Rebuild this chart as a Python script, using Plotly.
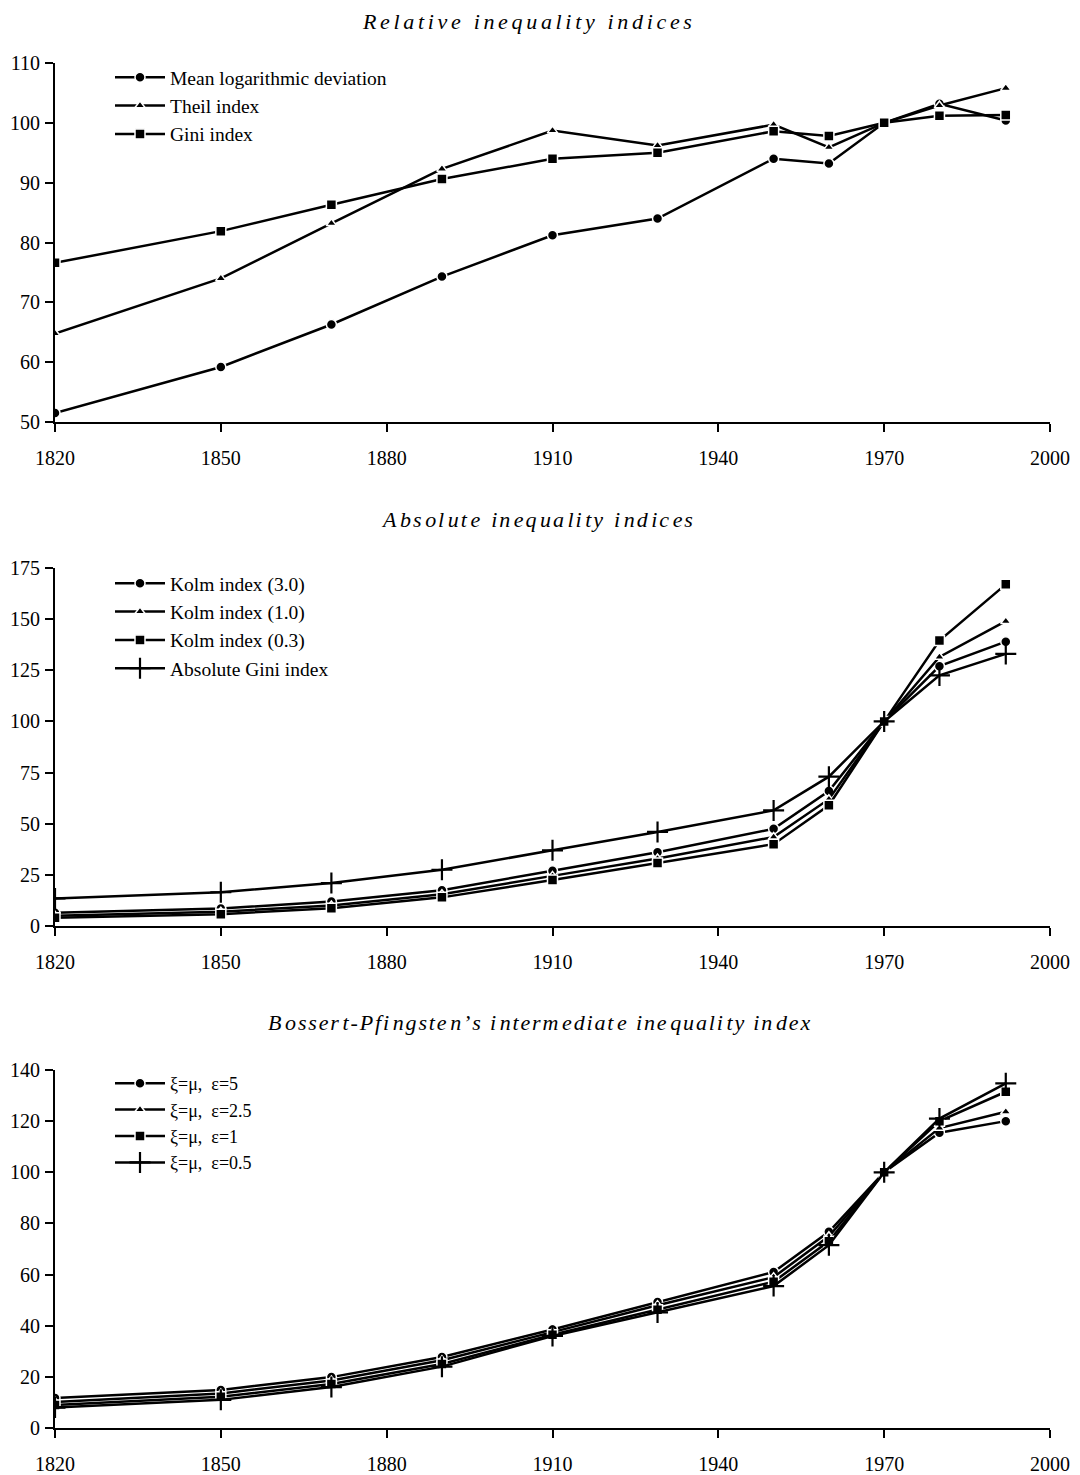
import plotly.graph_objects as go

years = [1820, 1850, 1870, 1890, 1910, 1929, 1950, 1960, 1970, 1980, 1992]

# Panel 1: relative inequality indices
mld = [51.5, 59.2, 66.3, 74.3, 81.2, 84.0, 94.0, 93.2, 100.0, 103.2, 100.4]
theil = [64.8, 74.0, 83.2, 92.3, 98.7, 96.2, 99.7, 95.9, 100.0, 102.9, 105.8]
gini = [76.6, 81.9, 86.3, 90.6, 94.0, 95.0, 98.6, 97.8, 100.0, 101.2, 101.3]

# Panel 2: absolute inequality indices
kolm30 = [6.5, 8.5, 12.0, 17.5, 27.0, 36.0, 47.5, 66.0, 100.0, 127.0, 139.0]
kolm10 = [5.0, 7.0, 10.0, 15.5, 24.5, 33.0, 43.5, 62.0, 100.0, 131.5, 149.0]
kolm03 = [4.0, 5.8, 8.7, 14.0, 22.5, 30.8, 40.0, 59.0, 100.0, 139.5, 167.0]
absgini = [13.5, 16.5, 21.0, 27.5, 37.0, 46.0, 56.5, 73.0, 100.0, 122.5, 133.0]

# Panel 3: Bossert-Pfingsten intermediate index
bp5 = [11.7, 14.9, 19.9, 27.8, 38.5, 49.3, 61.0, 76.7, 100.0, 115.5, 120.0]
bp25 = [10.2, 13.5, 18.6, 26.5, 37.5, 48.0, 59.0, 75.0, 100.0, 117.3, 123.7]
bp1 = [9.0, 12.2, 17.2, 25.0, 36.5, 46.2, 57.2, 73.0, 100.0, 120.0, 131.5]
bp05 = [8.0, 11.0, 16.0, 24.0, 36.0, 45.2, 55.5, 71.5, 100.0, 121.0, 134.8]

titles = ["Relative inequality indices",
          "Absolute inequality indices",
          "Bossert-Pfingsten\u2019s intermediate inequality index"]

x_ticks = [1820, 1850, 1880, 1910, 1940, 1970, 2000]
y_ticks1 = [50, 60, 70, 80, 90, 100, 110]
y_ticks2 = [0, 25, 50, 75, 100, 125, 150, 175]
y_ticks3 = [0, 20, 40, 60, 80, 100, 120, 140]

FONT = "Liberation Serif, Times New Roman, serif"
OFF = 8  # default page body margin
W = 1080 - OFF
H = 1475.0 - OFF
L = 55 - OFF
PW = 995

fig = go.Figure()

def add(y, name, symbol, xa, ya, legend, size):
    if symbol == "cross-thin":
        marker = dict(symbol=symbol, size=size, color="black",
                      line=dict(color="black", width=2.2))
    else:
        marker = dict(symbol=symbol, size=size, color="black",
                      line=dict(color="white", width=1.5))
    fig.add_trace(go.Scatter(
        x=years, y=y, name=name, mode="lines+markers",
        line=dict(color="black", width=2.5),
        marker=marker, xaxis=xa, yaxis=ya, legend=legend,
        legendgroup=name,
    ))

add(mld, "Mean logarithmic deviation", "circle", "x", "y", "legend", 10)
add(theil, "Theil index", "triangle-up", "x", "y", "legend", 9)
add(gini, "Gini index", "square", "x", "y", "legend", 10)

add(kolm30, "Kolm index (3.0)", "circle", "x2", "y2", "legend2", 10)
add(kolm10, "Kolm index (1.0)", "triangle-up", "x2", "y2", "legend2", 9)
add(kolm03, "Kolm index (0.3)", "square", "x2", "y2", "legend2", 10)
add(absgini, "Absolute Gini index", "cross-thin", "x2", "y2", "legend2", 15)

add(bp5, "\u03be=\u03bc,  \u03b5=5", "circle", "x3", "y3", "legend3", 10)
add(bp25, "\u03be=\u03bc,  \u03b5=2.5", "triangle-up", "x3", "y3", "legend3", 9)
add(bp1, "\u03be=\u03bc,  \u03b5=1", "square", "x3", "y3", "legend3", 10)
add(bp05, "\u03be=\u03bc,  \u03b5=0.5", "cross-thin", "x3", "y3", "legend3", 15)

# page pixel positions: (axis top, axis bottom, range, ticks,
#                        title centre x, title centre y, double-space period)
panels = [
    (63, 422, [50, 110], y_ticks1, 527, 18, 1),
    (568, 926, [0, 175], y_ticks2, 537, 520, 2),
    (1070, 1428, [0, 140], y_ticks3, 539, 1023, 5),
]

axis_common = dict(
    showline=True, linecolor="black", linewidth=2.2,
    ticks="outside", ticklen=8, tickwidth=2.2, tickcolor="black",
    showgrid=False, zeroline=False,
    tickfont=dict(family=FONT, size=20, color="black"),
)
inside_common = dict(
    showline=False, ticks="inside", ticklen=4, tickwidth=2.2,
    tickcolor="black", showgrid=False, zeroline=False,
    showticklabels=False,
)

def spaced(s, period):
    out = s[0]
    for k, ch in enumerate(s[1:]):
        out += "\u200a" * (2 if k % period == 0 else 1) + ch
    return out

for i, (top, bot, yr, yt, tx, ty, sp) in enumerate(panels):
    sfx = "" if i == 0 else str(i + 1)
    dom = [1 - (bot - OFF) / H, 1 - (top - OFF) / H]
    fig.layout["xaxis" + sfx] = dict(
        axis_common, range=[1820, 2000], tickvals=x_ticks,
        anchor="y" + sfx, domain=[0, 1], ticklabelstandoff=9,
    )
    fig.layout["yaxis" + sfx] = dict(
        axis_common, range=yr, tickvals=yt,
        anchor="x" + sfx, domain=dom, ticklabelstandoff=1,
    )
    # inner part of crossing ticks
    xi = str(4 + i)
    fig.layout["xaxis" + xi] = dict(
        inside_common, range=[1820, 2000], tickvals=x_ticks,
        overlaying="x" + sfx, anchor="y" + sfx,
    )
    fig.layout["yaxis" + xi] = dict(
        inside_common, range=yr, tickvals=yt,
        overlaying="y" + sfx, anchor="x" + sfx, domain=dom,
    )
    if i == 0:
        ypos, yanc = 1.0, "top"
    else:
        ypos, yanc = 1 - (ty - OFF) / H, "middle"
    fig.add_annotation(
        text=spaced(titles[i], sp), xref="paper", yref="paper",
        x=(tx - 55) / PW, y=ypos, showarrow=False,
        xanchor="center", yanchor=yanc, borderpad=0,
        font=dict(family=FONT, size=22, color="black", style="italic"),
    )

legend_common = dict(
    x=(110 - 55) / PW, xanchor="left", yanchor="top",
    bgcolor="rgba(0,0,0,0)", borderwidth=0,
    itemwidth=50, tracegroupgap=0,
)
fig.layout.legend = dict(legend_common, y=1 - 50 / H,
                         font=dict(family=FONT, size=19.5, color="black"))
fig.layout.legend2 = dict(legend_common, y=1 - 556 / H,
                          font=dict(family=FONT, size=19.5, color="black"))
fig.layout.legend3 = dict(legend_common, y=1 - 1057 / H,
                          font=dict(family=FONT, size=18, color="black"))

fig.update_layout(
    width=W, height=int(H),
    margin=dict(l=L, r=W - L - PW, t=0, b=0, autoexpand=False),
    plot_bgcolor="white", paper_bgcolor="white",
    showlegend=True,
)

fig.write_html("out.html")
